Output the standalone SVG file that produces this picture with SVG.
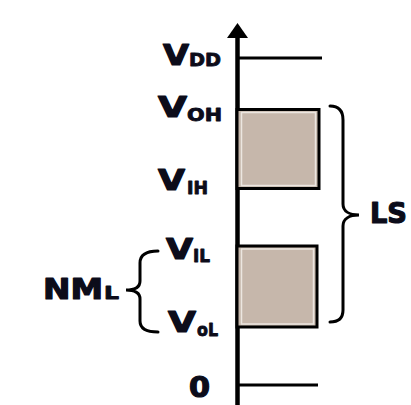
<svg xmlns="http://www.w3.org/2000/svg" width="411" height="405" viewBox="0 0 411 405">
<style>
.v{font-family:"DejaVu Sans","Liberation Sans",sans-serif;font-weight:bold;font-size:28px;fill:#0c0c1a;stroke:#0c0c1a;stroke-width:1.2;stroke-linejoin:round}
.s{font-family:"DejaVu Sans","Liberation Sans",sans-serif;font-weight:bold;font-size:18px;fill:#0c0c1a;stroke:#0c0c1a;stroke-width:0.9;stroke-linejoin:round}
.ln{stroke:#000;stroke-width:3;fill:none}
.br{stroke:#000;stroke-width:3;fill:none;stroke-linecap:round}
.box{fill:#c6b7ab;stroke:#000;stroke-width:3}
.inner{fill:none;stroke:#ece6e0;stroke-width:1.5}
</style>
<rect width="411" height="405" fill="#fff"/>
<g id="connectors">
<line x1="237.5" y1="34" x2="237.5" y2="405" stroke="#000" stroke-width="4.5"/>
<polygon points="237.5,23 248,38 227,38" fill="#000"/>
<line class="ln" x1="237" y1="58" x2="322" y2="58"/>
<line class="ln" x1="237" y1="385" x2="318" y2="385"/>
</g>
<g id="box-high">
<rect class="box" x="237" y="109.5" width="82" height="79"/>
<rect class="inner" x="241.5" y="112.5" width="74" height="73"/>
</g>
<g id="box-low">
<rect class="box" x="237" y="246" width="80" height="81"/>
<rect class="inner" x="241.5" y="249" width="72" height="75"/>
</g>
<g id="label-vdd"><text class="v" x="163" y="65" textLength="26" lengthAdjust="spacingAndGlyphs">V</text><text class="s" x="189" y="66" textLength="32" lengthAdjust="spacingAndGlyphs">DD</text></g>
<g id="label-voh"><text class="v" x="158" y="117" textLength="29" lengthAdjust="spacingAndGlyphs">V</text><text class="s" x="187" y="121" textLength="35" lengthAdjust="spacingAndGlyphs">OH</text></g>
<g id="label-vih"><text class="v" x="158" y="190" textLength="27" lengthAdjust="spacingAndGlyphs">V</text><text class="s" x="187" y="194" textLength="21" lengthAdjust="spacingAndGlyphs">IH</text></g>
<g id="label-vil"><text class="v" x="166" y="259" textLength="27" lengthAdjust="spacingAndGlyphs">V</text><text class="s" x="193" y="262" textLength="17" lengthAdjust="spacingAndGlyphs">IL</text></g>
<g id="label-vol"><text class="v" x="168" y="332" textLength="28" lengthAdjust="spacingAndGlyphs">V</text><text class="s" x="197" y="336" textLength="21" lengthAdjust="spacingAndGlyphs">oL</text></g>
<g id="label-zero"><text class="v" x="189" y="397" font-size="26" textLength="21" lengthAdjust="spacingAndGlyphs">0</text></g>
<g id="nml">
<path class="br" d="M158,251 C146,251 140,255 140,263 L140,281 C140,287 135,290 126,290 C135,290 140,293 140,299 L140,321 C140,328 146,332 158,332"/>
<text class="v" x="43" y="299" textLength="60" lengthAdjust="spacingAndGlyphs">NM</text><text class="s" x="104" y="299" textLength="15" lengthAdjust="spacingAndGlyphs">L</text>
</g>
<g id="ls">
<path class="br" d="M330,106 C339,106 343,111 343,120 L343,204 C343,211 349,215 359,215 C349,215 343,219 343,226 L343,310 C343,318 339,322 330,322"/>
<text class="v" x="370" y="223" font-size="22" textLength="37" lengthAdjust="spacingAndGlyphs">LS</text>
</g>
</svg>
